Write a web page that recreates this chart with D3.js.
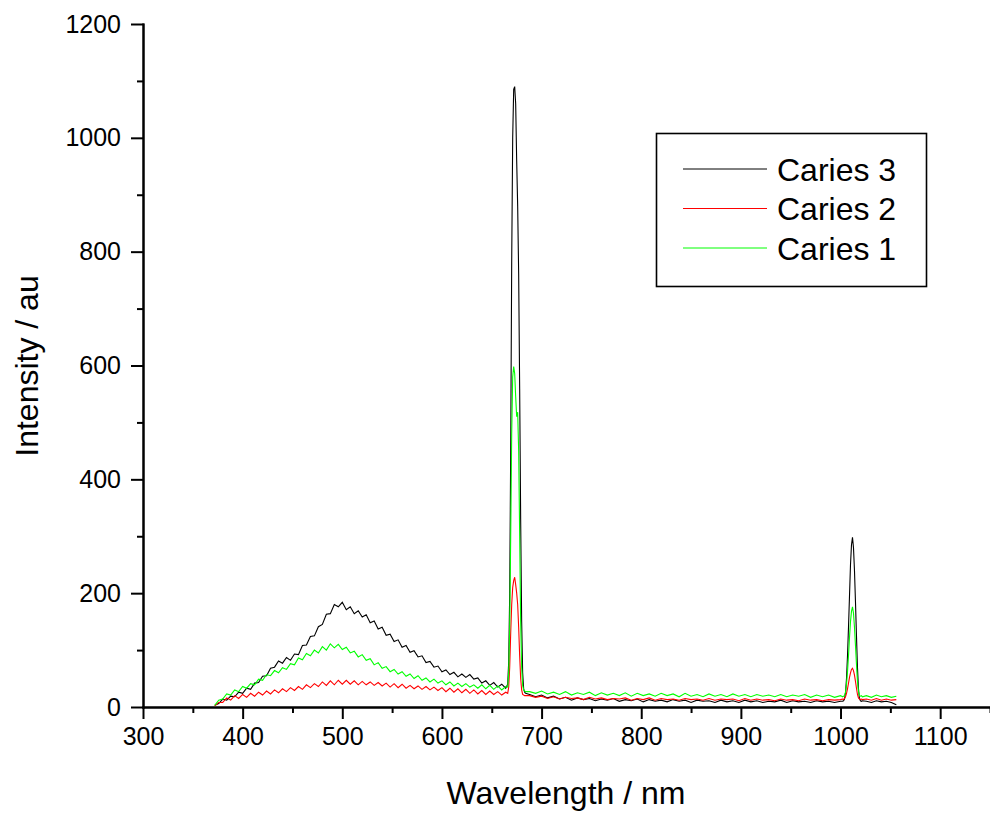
<!DOCTYPE html>
<html>
<head>
<meta charset="utf-8">
<script src="https://cdn.jsdelivr.net/npm/d3@7"></script>
<style>
  body { margin: 0; background: #fff; }
  svg, svg text { font-family: "Liberation Sans", Arial, sans-serif; }
  .axis path, .axis line { stroke: #000; stroke-width: 2px; }
  .axis text { font-size: 25px; fill: #000; font-family: "Liberation Sans", Arial, sans-serif; }
</style>
</head>
<body>
<script>

// wavelength grid (nm), coarse where flat, 1 nm across the peaks
var wavelength = [
  372,376,380,384,388,392,396,400,404,408,
  412,416,420,424,428,432,436,440,444,448,
  452,456,460,464,468,472,476,480,484,488,
  492,496,500,504,508,512,516,520,524,528,
  532,536,540,544,548,552,556,560,564,568,
  572,576,580,584,588,592,596,600,604,608,
  612,616,620,624,628,632,636,640,644,648,
  652,656,660,664,
  666,667,668,669,670,671,672,673,674,675,676,677,678,679,680,681,682,683,684,
  688,694,700,706,712,718,724,730,736,742,
  748,754,760,766,772,778,784,790,796,802,
  808,814,820,826,832,838,844,850,856,862,
  868,874,880,886,892,898,904,910,916,922,
  928,934,940,946,952,958,964,970,976,982,
  988,994,1000,
  1002,1003,1004,1005,1006,1007,1008,1009,1010,1011,1012,1013,1014,1015,1016,1017,1018,1019,1020,1021,1022,
  1026,1031,1036,1041,1046,1051,1056
];

var caries3 = [
  3,6,14,12,19,18,26,24,33,31,
  42,43,54,55,68,70,81,77,87,82,
  93,92,108,109,124,125,141,145,163,164,
  180,176,184,171,176,164,169,158,162,148,
  151,137,140,126,128,115,118,105,108,96,
  99,88,90,78,80,70,72,62,65,57,
  61,53,58,52,57,49,51,42,46,38,
  43,35,40,33,
  40,80,200,450,780,1000,1085,1090,1060,960,880,760,560,330,150,60,32,26,24,
  22,18,21,16,19,14,17,12,16,13,
  15,11,14,12,15,10,13,11,14,9,
  13,10,12,9,13,10,12,8,12,10,
  11,8,12,9,11,8,12,9,11,8,
  10,9,12,8,11,9,10,8,11,9,
  10,8,10,
  10,11,14,25,50,90,140,195,250,285,298,280,240,185,125,70,32,15,11,10,11,
  10,8,11,9,10,8,4
];

var caries2 = [
  2,8,8,16,12,20,15,22,17,24,
  19,26,21,28,23,30,25,32,27,34,
  29,36,31,39,34,41,36,44,38,46,
  39,47,40,47,40,46,39,45,39,44,
  38,43,37,42,35,41,34,40,33,38,
  32,37,31,36,30,35,29,34,27,33,
  26,32,25,31,24,30,23,29,22,28,
  22,27,21,26,
  24,35,70,130,180,210,222,228,215,200,180,140,90,50,30,22,21,20,20,
  20,17,19,15,18,14,17,15,16,13,
  17,14,16,13,15,14,16,12,15,13,
  16,12,15,13,14,12,15,13,14,12,
  15,12,14,13,14,11,15,12,14,12,
  13,11,14,12,13,11,14,12,13,11,
  13,12,13,
  14,13,15,18,24,32,42,52,60,66,68,64,56,45,33,22,16,14,13,14,13,
  14,12,15,12,14,12,13
];

var caries1 = [
  3,12,14,23,21,30,27,36,33,41,
  39,49,47,57,55,64,60,69,66,76,
  74,86,83,94,90,100,95,106,100,111,
  104,110,101,105,95,98,88,92,82,85,
  74,78,68,71,62,66,58,62,54,58,
  50,55,47,51,44,49,42,46,39,44,
  37,42,36,41,35,39,33,39,32,38,
  31,37,30,36,
  35,60,140,300,480,580,598,586,545,510,518,450,300,150,70,38,30,28,27,
  27,24,28,23,26,22,27,21,25,22,
  26,20,25,21,24,20,25,19,24,20,
  23,19,24,20,23,18,24,19,22,18,
  23,19,22,18,23,19,22,18,22,19,
  21,18,22,18,21,19,22,17,21,18,
  21,17,20,
  18,19,20,26,40,62,90,122,150,168,176,165,140,108,75,45,27,20,19,20,18,
  20,17,21,18,20,17,19
];

var seriesNames = ["Caries 3", "Caries 2", "Caries 1"];
var seriesColors = ["#000000", "#ff0000", "#00ff00"];
var xTicks = [300, 400, 500, 600, 700, 800, 900, 1000, 1100];
var xMinor = [350, 450, 550, 650, 750, 850, 950, 1050, 1150];
var yTicks = [0, 200, 400, 600, 800, 1000, 1200];
var yMinor = [100, 300, 500, 700, 900, 1100];

var width = 990, height = 814;

var x = d3.scaleLinear().domain([300, 1150]).range([143, 990]);
var y = d3.scaleLinear().domain([0, 1200]).range([707, 24]);

var svg = d3.select("body").append("svg")
    .attr("width", width)
    .attr("height", height);

// minor ticks first, then major axes on top
svg.append("g")
    .attr("class", "axis")
    .attr("transform", "translate(0,707)")
    .call(d3.axisBottom(x).tickValues(xMinor).tickSize(6).tickSizeOuter(0).tickFormat(""));

svg.append("g")
    .attr("class", "axis")
    .attr("transform", "translate(143,0)")
    .call(d3.axisLeft(y).tickValues(yMinor).tickSize(6).tickSizeOuter(0).tickFormat(""));

svg.append("g")
    .attr("class", "axis")
    .attr("transform", "translate(0,707)")
    .call(d3.axisBottom(x).tickValues(xTicks).tickSize(12).tickSizeOuter(0)
      .tickPadding(8).tickFormat(d3.format("d")));

svg.append("g")
    .attr("class", "axis")
    .attr("transform", "translate(143,0)")
    .call(d3.axisLeft(y).tickValues(yTicks).tickSize(12).tickSizeOuter(0)
      .tickPadding(10).tickFormat(d3.format("d")));

svg.selectAll(".axis .domain").attr("stroke-linecap", "square");

// spectra: black, red, then green on top
var series = [caries3, caries2, caries1];

var line = d3.line()
    .x(function(d) { return x(d[0]); })
    .y(function(d) { return y(d[1]); });

svg.append("g").selectAll("path")
    .data(series)
    .enter().append("path")
    .attr("fill", "none")
    .attr("stroke", function(d, i) { return seriesColors[i]; })
    .attr("stroke-width", 1.1)
    .attr("d", function(d) {
      return line(d.map(function(v, j) { return [wavelength[j], v]; }));
    });

// axis titles
svg.append("text")
    .attr("x", 566)
    .attr("y", 804)
    .attr("text-anchor", "middle")
    .style("font-size", "32px")
    .text("Wavelength / nm");

svg.append("text")
    .attr("transform", "translate(38,366) rotate(-90)")
    .attr("text-anchor", "middle")
    .style("font-size", "32px")
    .text("Intensity / au");

// legend
var legend = svg.append("g");

legend.append("rect")
    .attr("x", 656.5)
    .attr("y", 133.5)
    .attr("width", 270)
    .attr("height", 153)
    .attr("fill", "#fff")
    .attr("stroke", "#000")
    .attr("stroke-width", 1.6);

var item = legend.selectAll(".item")
    .data(seriesNames)
    .enter().append("g")
    .attr("class", "item")
    .attr("transform", function(d, i) { return "translate(0," + (169 + i * 39.5) + ")"; });

item.append("line")
    .attr("x1", 683).attr("x2", 767)
    .attr("stroke", function(d, i) { return seriesColors[i]; })
    .attr("stroke-width", 1);

item.append("text")
    .attr("x", 777)
    .attr("dy", "0.36em")
    .style("font-size", "32px")
    .text(function(d) { return d; });

</script>
</body>
</html>
